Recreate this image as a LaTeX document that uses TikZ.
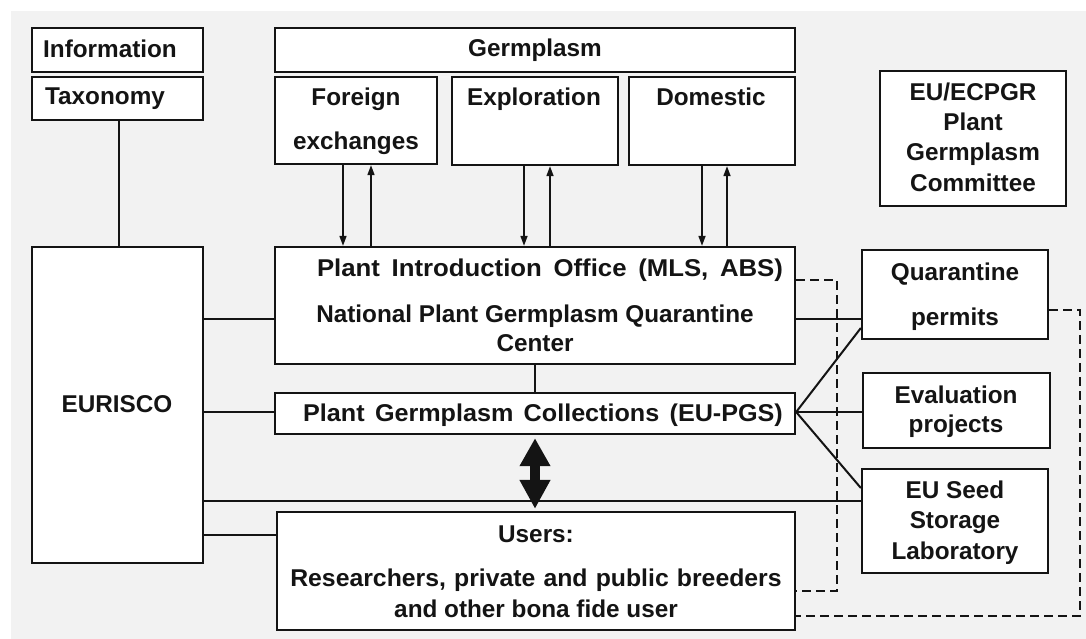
\documentclass[tikz,border=0pt]{standalone}
\usepackage{fontspec}
\setmainfont{Liberation Sans}
\usetikzlibrary{fit,arrows.meta}
\definecolor{bggray}{HTML}{F2F2F2}
\definecolor{ink}{HTML}{141414}
\begin{document}
\begin{tikzpicture}[x=1pt,y=-1pt,
  box/.style={draw=ink, line width=2.3pt, fill=white, inner sep=0pt},
  txt/.style={font=\bfseries\fontsize{24.3}{28}\selectfont, text=ink, inner sep=0pt, anchor=base},
  conn/.style={draw=ink, line width=2pt},
  dconn/.style={draw=ink, line width=2pt, dash pattern=on 9pt off 5pt},
  arr/.style={draw=ink, line width=1.6pt, -{Triangle[width=7pt,length=10pt]}},
  bigarr/.style={draw=ink, line width=10pt, {Triangle[width=29pt,length=28pt]}-{Triangle[width=29pt,length=29pt]}}
]
\useasboundingbox (0,0) rectangle (1086,639);
\fill[white] (0,0) rectangle (1086,639);
\fill[bggray] (11,11) rectangle (1086,639);

% boxes
\node[box, fit={(32,28) (203,72)}] (info) {};
\node[box, fit={(32,77) (203,120)}] (taxo) {};
\node[box, fit={(275,28) (795,72)}] (germ) {};
\node[box, fit={(275,77) (437,164)}] (foreign) {};
\node[box, fit={(452,77) (618,165)}] (explor) {};
\node[box, fit={(629,77) (795,165)}] (domestic) {};
\node[box, fit={(880,71) (1066,206)}] (ecpgr) {};
\node[box, fit={(32,247) (203,563)}] (eurisco) {};
\node[box, fit={(275,247) (795,364)}] (pio) {};
\node[box, fit={(275,393) (795,434)}] (pgc) {};
\node[box, fit={(277,512) (795,630)}] (users) {};
\node[box, fit={(862,250) (1048,339)}] (quar) {};
\node[box, fit={(863,373) (1050,448)}] (eval) {};
\node[box, fit={(862,469) (1048,573)}] (seed) {};

% connectors
\draw[conn] (taxo.south -| 119,0) -- (eurisco.north -| 119,0);
\draw[arr] (foreign.south -| 343,0) -- (pio.north -| 343,0);
\draw[arr] (pio.north -| 371,0) -- (foreign.south -| 371,0);
\draw[arr] (explor.south -| 524,0) -- (pio.north -| 524,0);
\draw[arr] (pio.north -| 550,0) -- (explor.south -| 550,0);
\draw[arr] (domestic.south -| 702,0) -- (pio.north -| 702,0);
\draw[arr] (pio.north -| 727,0) -- (domestic.south -| 727,0);

\draw[conn] (eurisco.east |- 0,319) -- (pio.west |- 0,319);
\draw[conn] (eurisco.east |- 0,412) -- (pgc.west |- 0,412);
\draw[conn] (eurisco.east |- 0,501) -- (seed.west |- 0,501);
\draw[conn] (eurisco.east |- 0,535) -- (users.west |- 0,535);
\draw[conn] (pio.south -| 535,0) -- (pgc.north -| 535,0);
\draw[conn] (pio.east |- 0,319) -- (quar.west |- 0,319);
\draw[conn] (pgc.east |- 0,412) -- (quar.west |- 0,328);
\draw[conn] (pgc.east |- 0,412) -- (eval.west |- 0,412);
\draw[conn] (pgc.east |- 0,412) -- (seed.west |- 0,488);

\draw[dconn] (pio.east |- 0,280) -- (837,280) -- (837,591) -- (users.east |- 0,591);
\draw[dconn] (quar.east |- 0,310) -- (1080,310) -- (1080,616) -- (users.east |- 0,616);

\path (pgc.south -| 535,0) ++(0,3) coordinate (ba1);
\path (users.north -| 535,0) ++(0,-2) coordinate (ba2);
\draw[bigarr] (ba1) -- (ba2);

% texts
\node[txt] (tinfo) at (110,58) {Information};
\node[txt] (ttaxo) at (105,105) {Taxonomy};
\node[txt] (tgerm) at (535,57) {Germplasm};
\node[txt] (tfor1) at (356,106) {Foreign};
\node[txt] (tfor2) at (356,150) {exchanges};
\node[txt] (texp) at (534,106) {Exploration};
\node[txt] (tdom) at (711,106) {Domestic};
\node[txt] (tec1) at (973,101) {EU/ECPGR};
\node[txt] (tec2) at (973,131) {Plant};
\node[txt] (tec3) at (973,161) {Germplasm};
\node[txt] (tec4) at (973,191) {Committee};
\node[txt] (teur) at (117,412) {EURISCO};
\node[txt, xscale=1.06] (tpio1) at (550,276) {\spaceskip=11pt Plant Introduction Office (MLS, ABS)};
\node[txt] (tpio2) at (535,322) {National Plant Germplasm Quarantine};
\node[txt] (tpio3) at (535,351) {Center};
\node[txt, xscale=1.035] (tpgc) at (543,421) {\spaceskip=10pt Plant Germplasm Collections (EU-PGS)};
\node[txt] (tus1) at (536,542) {Users:};
\node[txt, xscale=1.02] (tus2) at (536,586) {\spaceskip=8pt Researchers, private and public breeders};
\node[txt] (tus3) at (536,617) {and other bona fide user};
\node[txt] (tq1) at (955,280) {Quarantine};
\node[txt] (tq2) at (955,325) {permits};
\node[txt] (tev1) at (956,403) {Evaluation};
\node[txt] (tev2) at (956,432) {projects};
\node[txt] (ts1) at (955,498) {EU Seed};
\node[txt] (ts2) at (955,528) {Storage};
\node[txt] (ts3) at (955,559) {Laboratory};
\end{tikzpicture}
\end{document}
